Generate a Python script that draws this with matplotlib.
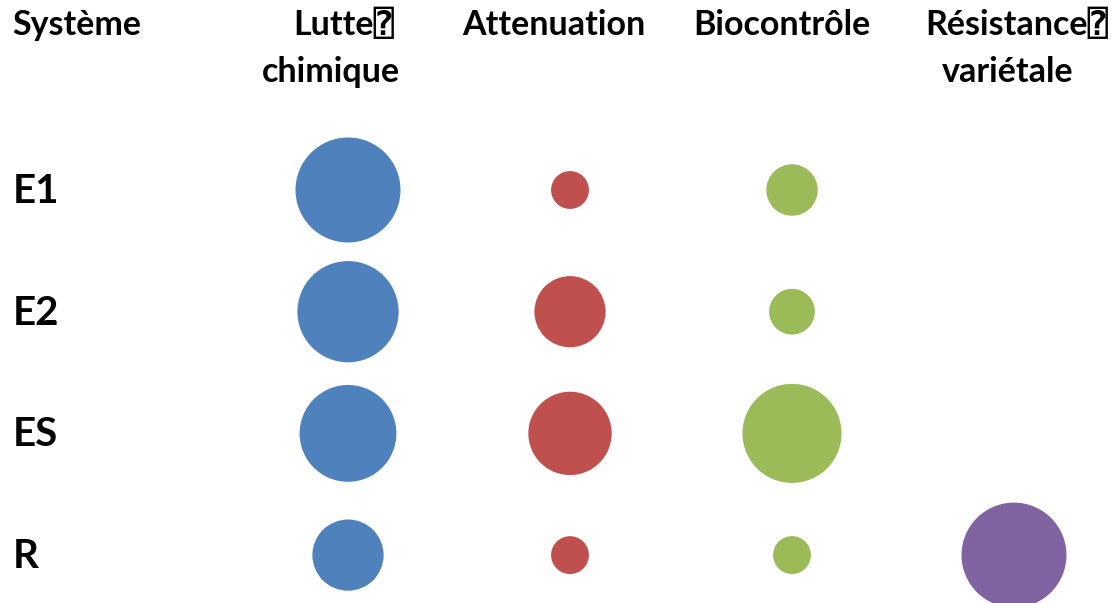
import matplotlib
matplotlib.use("Agg")
import matplotlib.pyplot as plt
from matplotlib.transforms import offset_copy

plt.rcParams['font.family'] = ['Lato', 'DejaVu Sans', 'DejaVu Sans Mono']
plt.rcParams['font.weight'] = 'bold'

# colonnes (méthodes de lutte) et lignes (systèmes)
methodes = ["Lutte\u2370\nchimique", "Attenuation", "Biocontrôle", "Résistance\u2370\nvariétale"]
systemes = ["E1", "E2", "ES", "R"]
couleurs = ["#4F81BD", "#C0504D", "#9BBB59", "#8064A2"]

# poids relatif de chaque méthode (0-100), un tableau par méthode
lutte_chimique = [100, 93, 85, 46]
attenuation = [13, 46, 63, 13]
biocontrole = [24, 19, 89, 13]
resistance = [0, 0, 0, 100]
poids = [lutte_chimique, attenuation, biocontrole, resistance]

W, H = 1116, 603
fig = plt.figure(figsize=(W / 100, H / 100), dpi=100)
ax = fig.add_axes([0, 0, 1, 1])

# une colonne tous les 222 px à partir de x=348, une ligne tous les 122 px à partir de y=190
x0, dx = 348, 222
y0, dy = 190, 121.7
ax.set_xlim(-x0 / dx, (W - x0) / dx)
ax.set_ylim((H - y0) / dy, -y0 / dy)
ax.axis("off")

d_max = 105 * 0.72  # diamètre max en points
for i, (vals, c) in enumerate(zip(poids, couleurs)):
    for j, v in enumerate(vals):
        if v > 0:
            ax.scatter(i, j, s=(d_max ** 2) * v / 100, color=c, edgecolors="none")


def px(x, y, s, ha="center"):
    # texte placé en pixels (origine en haut à gauche), y = ligne de base
    fig.text(x / W, 1 - y / H, s, fontsize=24.5, ha=ha, va="baseline")


# en-têtes : une ligne par libellé, ligne de base à 35 px puis 82 px
px(12, 35, "Système", ha="left")
entetes_x = [(344, 331), (554, None), (782, None), (1017, 1008)]
for m, (xa, xb) in zip(methodes, entetes_x):
    lignes = m.split("\n")
    px(xa, 35, lignes[0])
    if len(lignes) > 1:
        px(xb, 82, lignes[1])

# libellés des systèmes, ligne de base 13 px sous le centre des bulles
trans = offset_copy(ax.transData, fig=fig, x=0, y=-13, units="dots")
for j, s in enumerate(systemes):
    ax.text(-x0 / dx + 13 / dx, j, s, fontsize=29, ha="left", va="baseline",
            transform=trans)

fig.savefig("out.png", dpi=100)
